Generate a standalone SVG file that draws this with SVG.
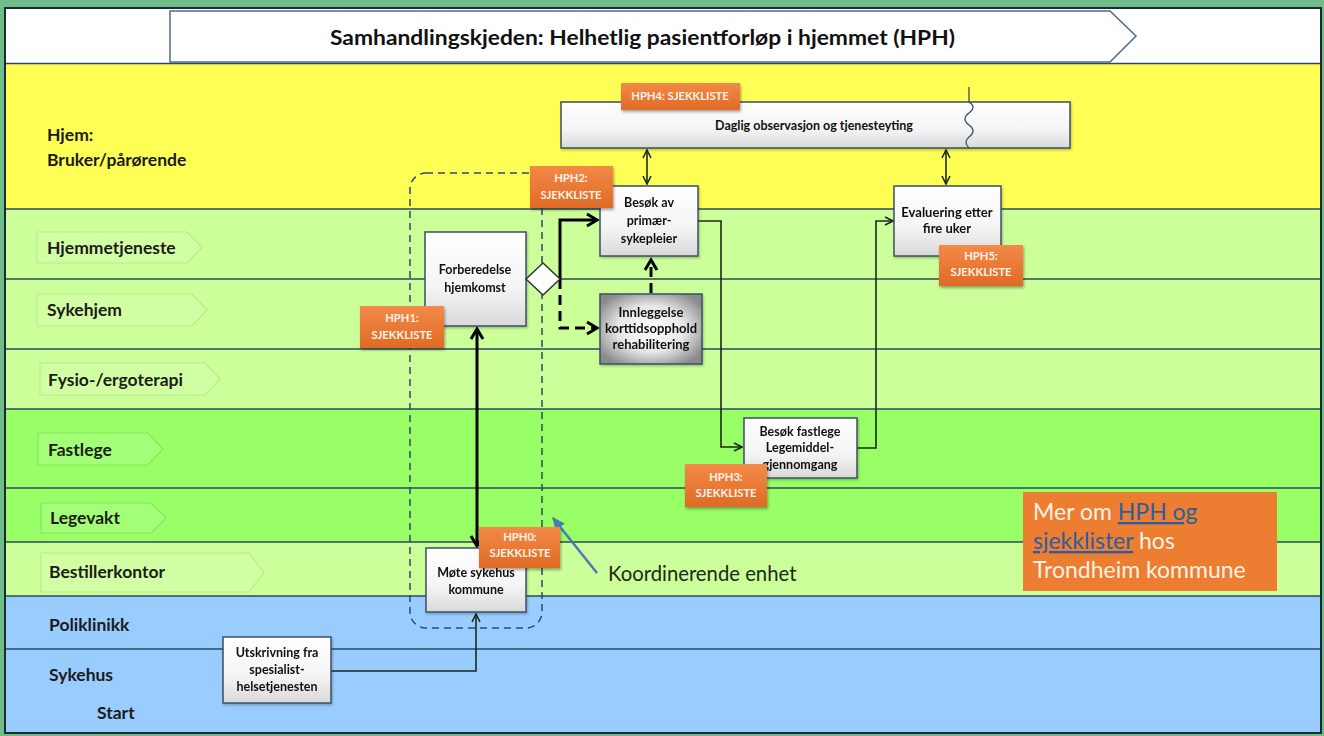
<svg xmlns="http://www.w3.org/2000/svg" width="1324" height="736" viewBox="0 0 1324 736">
<defs>
<style>
.ll{stroke:#2d4860;stroke-width:1.5}
.lbl{font-family:Lato,"Liberation Sans",sans-serif;font-weight:bold;font-size:17.5px;fill:#1b1b1b}
.tabL{fill:#d3ffa4;stroke:#b4ee8c;stroke-width:1.2}
.tabD{fill:#a4ff78;stroke:#86e65a;stroke-width:1.2}
.nb{fill:url(#gW);stroke:#3a4f66;stroke-width:1.5}
.nt{font-family:Lato,"Liberation Sans",sans-serif;font-weight:bold;font-size:12.5px;fill:#111;text-anchor:middle}
.hb{fill:url(#gO);filter:url(#sh)}
.ht{font-family:Lato,"Liberation Sans",sans-serif;font-weight:bold;font-size:11.2px;fill:#fff3ea;text-anchor:middle}
.thin{fill:none;stroke:#1c2a1c;stroke-width:1.6}
.thick{fill:none;stroke:#000;stroke-width:3}
.dash{stroke-dasharray:10 6}
</style>
<linearGradient id="gW" x1="0" y1="0" x2="0" y2="1">
<stop offset="0" stop-color="#ffffff"/><stop offset="0.6" stop-color="#f4f4f4"/><stop offset="1" stop-color="#d9d9d9"/>
</linearGradient>
<radialGradient id="gG" cx="0.5" cy="0.5" r="0.6">
<stop offset="0" stop-color="#ffffff"/><stop offset="0.55" stop-color="#e6e6e6"/><stop offset="1" stop-color="#8a8a8a"/>
</radialGradient>
<linearGradient id="gO" x1="0" y1="0" x2="0" y2="1">
<stop offset="0" stop-color="#f28a48"/><stop offset="1" stop-color="#e06a25"/>
</linearGradient>
<filter id="sh" x="-20%" y="-20%" width="140%" height="150%">
<feDropShadow dx="1" dy="2" stdDeviation="1.5" flood-color="#000" flood-opacity="0.35"/>
</filter>
<filter id="sh2" x="-10%" y="-10%" width="130%" height="130%">
<feDropShadow dx="1" dy="1.5" stdDeviation="1" flood-color="#000" flood-opacity="0.25"/>
</filter>
<marker id="aT" viewBox="0 0 10 10" refX="9" refY="5" markerWidth="10" markerHeight="10" markerUnits="userSpaceOnUse" orient="auto-start-reverse">
<path d="M1,1 L9,5 L1,9" fill="none" stroke="#1c2a1c" stroke-width="1.6"/>
</marker>
<marker id="aK" viewBox="0 0 16 16" refX="13" refY="8" markerWidth="16" markerHeight="16" markerUnits="userSpaceOnUse" orient="auto-start-reverse">
<path d="M3,2 L13,8 L3,14" fill="none" stroke="#000" stroke-width="3"/>
</marker>
<marker id="aB" viewBox="0 0 12 12" refX="10" refY="6" markerWidth="14" markerHeight="14" markerUnits="userSpaceOnUse" orient="auto">
<path d="M0,1 L11,6 L0,11 Z" fill="#4a7ab8"/>
</marker>
</defs>

<!-- frame and lanes -->
<rect x="0" y="0" width="1324" height="736" fill="#6fbd88"/>
<rect x="5" y="8" width="1316" height="725" fill="#ffffff" stroke="#1e2a33" stroke-width="2"/>
<rect x="6" y="64" width="1314" height="145" fill="#ffff55"/>
<rect x="6" y="209" width="1314" height="200" fill="#ccff99"/>
<rect x="6" y="409" width="1314" height="133" fill="#99ff66"/>
<rect x="6" y="542" width="1314" height="54" fill="#ccff99"/>
<rect x="6" y="596" width="1314" height="136" fill="#99ccff"/>
<g id="lane-lines">
<line class="ll" x1="6" y1="63.5" x2="1320" y2="63.5"/>
<line class="ll" x1="6" y1="209" x2="1320" y2="209"/>
<line class="ll" x1="6" y1="279" x2="1320" y2="279"/>
<line class="ll" x1="6" y1="349" x2="1320" y2="349"/>
<line class="ll" x1="6" y1="409" x2="1320" y2="409"/>
<line class="ll" x1="6" y1="488" x2="1320" y2="488"/>
<line class="ll" x1="6" y1="542" x2="1320" y2="542"/>
<line class="ll" x1="6" y1="596" x2="1320" y2="596"/>
<line class="ll" x1="6" y1="649" x2="1320" y2="649"/>
</g>
<rect x="5" y="8" width="1316" height="725" fill="none" stroke="#1e2a33" stroke-width="2"/>

<!-- title -->
<g id="title">
<polygon points="170,11 1110,11 1136,36 1110,62 170,62" fill="#ffffff" stroke="#4d6a8f" stroke-width="1.5"/>
<text x="330" y="45" textLength="625" lengthAdjust="spacingAndGlyphs" font-family="Lato,'Liberation Sans',sans-serif" font-weight="bold" font-size="21" fill="#111">Samhandlingskjeden: Helhetlig pasientforløp i hjemmet (HPH)</text>
</g>

<!-- lane labels -->
<g id="lane-labels">
<text class="lbl" x="47" y="141">Hjem:</text>
<text class="lbl" x="47" y="166">Bruker/pårørende</text>
<path class="tabL" d="M37,232 H187 L202,247.5 L187,263 H37 Z"/>
<text class="lbl" x="47" y="254">Hjemmetjeneste</text>
<path class="tabL" d="M37,294 H192 L207,310 L192,326 H37 Z"/>
<text class="lbl" x="47" y="316">Sykehjem</text>
<path class="tabL" d="M40,363 H205 L220,379 L205,395 H40 Z"/>
<text class="lbl" x="48" y="386">Fysio-/ergoterapi</text>
<path class="tabD" d="M38,433 H148 L163,449 L148,465 H38 Z"/>
<text class="lbl" x="48" y="456">Fastlege</text>
<path class="tabD" d="M41,503 H151 L166,518 L151,533 H41 Z"/>
<text class="lbl" x="50" y="524">Legevakt</text>
<path class="tabL" d="M41,553 H249 L264,572.5 L249,592 H41 Z"/>
<text class="lbl" x="49" y="578">Bestillerkontor</text>
<text class="lbl" x="49" y="631">Poliklinikk</text>
<text class="lbl" x="49" y="681">Sykehus</text>
<text class="lbl" x="97" y="719">Start</text>
</g>

<!-- coordinating unit dashed boundary -->
<g id="koordinerende-enhet">
<rect x="410" y="173" width="132" height="455" rx="16" fill="none" stroke="#2c4a6a" stroke-width="1.5" stroke-dasharray="7 5"/>
<line x1="597" y1="573" x2="553" y2="518" stroke="#4a7ab8" stroke-width="2.5" marker-end="url(#aB)"/>
<text x="608" y="581" font-family="Lato,'Liberation Sans',sans-serif" font-size="20.3" fill="#1a2a1a">Koordinerende enhet</text>
</g>

<!-- connectors -->
<g id="connectors">
<line class="thin" x1="647" y1="150" x2="647" y2="184" marker-start="url(#aT)" marker-end="url(#aT)"/>
<line class="thin" x1="946" y1="150" x2="946" y2="184" marker-start="url(#aT)" marker-end="url(#aT)"/>
<line class="thick" x1="477" y1="329" x2="477" y2="546" marker-start="url(#aK)" marker-end="url(#aK)"/>
<polyline class="thick" points="560,279 560,220 597,220" marker-end="url(#aK)"/>
<polyline class="thick dash" points="560,279 560,328 597,328" marker-end="url(#aK)"/>
<line class="thick dash" x1="651" y1="293" x2="651" y2="260" marker-end="url(#aK)"/>
<polyline class="thin" points="698,221 721,221 721,447 742,447" marker-end="url(#aT)"/>
<polyline class="thin" points="857,448 876,448 876,221 893,221" marker-end="url(#aT)"/>
<polyline class="thin" points="331,671 476,671 476,614" marker-end="url(#aT)"/>
</g>

<!-- nodes -->
<g id="daglig">
<rect class="nb" x="561" y="102" width="509" height="46" filter="url(#sh2)"/>
<text class="nt" x="814" y="130">Daglig observasjon og tjenesteyting</text>
<path d="M969,87 V102 Q977,107 969,113 Q961,119 969,125 Q977,131 969,137 Q963,142 969,148" fill="none" stroke="#3a4f66" stroke-width="1.3"/>
</g>
<g id="besok-primaer" filter="url(#sh2)">
<rect class="nb" x="600" y="186" width="98" height="70"/>
<text class="nt" x="649" y="207">Besøk av</text>
<text class="nt" x="649" y="225">primær-</text>
<text class="nt" x="649" y="243">sykepleier</text>
</g>
<g id="evaluering" filter="url(#sh2)">
<rect class="nb" x="894" y="186" width="107" height="70"/>
<text class="nt" x="947" y="217" style="font-size:13px">Evaluering etter</text>
<text class="nt" x="947" y="233" style="font-size:13px">fire uker</text>
</g>
<g id="forberedelse" filter="url(#sh2)">
<rect class="nb" x="425" y="232" width="101" height="94"/>
<text class="nt" x="475" y="274">Forberedelse</text>
<text class="nt" x="475" y="292">hjemkomst</text>
</g>
<g id="gateway">
<polygon points="543,263 560,279 543,295 526,279" fill="#ffffff" stroke="#333" stroke-width="1.5"/>
</g>
<g id="innleggelse" filter="url(#sh2)">
<rect x="600" y="294" width="102" height="70" fill="url(#gG)" stroke="#3a4f66" stroke-width="1.5"/>
<text class="nt" x="651" y="317" style="font-size:13px">Innleggelse</text>
<text class="nt" x="651" y="333" style="font-size:13px">korttidsopphold</text>
<text class="nt" x="651" y="349" style="font-size:13px">rehabilitering</text>
</g>
<g id="besok-fastlege" filter="url(#sh2)">
<rect class="nb" x="744" y="418" width="113" height="60"/>
<text class="nt" x="800" y="436">Besøk fastlege</text>
<text class="nt" x="800" y="452">Legemiddel-</text>
<text class="nt" x="800" y="469">gjennomgang</text>
</g>
<g id="mote" filter="url(#sh2)">
<rect class="nb" x="426" y="548" width="100" height="64"/>
<text class="nt" x="476" y="577">Møte sykehus</text>
<text class="nt" x="476" y="594">kommune</text>
</g>
<g id="utskrivning" filter="url(#sh2)">
<rect class="nb" x="223" y="637" width="108" height="66"/>
<text class="nt" x="277" y="657">Utskrivning fra</text>
<text class="nt" x="277" y="674">spesialist-</text>
<text class="nt" x="277" y="691">helsetjenesten</text>
</g>

<!-- checklists -->
<g id="hph4">
<rect class="hb" x="621" y="83" width="119" height="27"/>
<text class="ht" x="680" y="100">HPH4: SJEKKLISTE</text>
</g>
<g id="hph2">
<rect class="hb" x="530" y="166" width="83" height="42"/>
<text class="ht" x="571" y="182">HPH2:</text>
<text class="ht" x="571" y="199">SJEKKLISTE</text>
</g>
<g id="hph1">
<rect class="hb" x="360" y="306" width="84" height="42"/>
<text class="ht" x="402" y="322">HPH1:</text>
<text class="ht" x="402" y="339">SJEKKLISTE</text>
</g>
<g id="hph5">
<rect class="hb" x="939" y="245" width="84" height="41"/>
<text class="ht" x="981" y="260">HPH5:</text>
<text class="ht" x="981" y="276">SJEKKLISTE</text>
</g>
<g id="hph3">
<rect class="hb" x="685" y="464" width="82" height="43"/>
<text class="ht" x="726" y="481">HPH3:</text>
<text class="ht" x="726" y="497">SJEKKLISTE</text>
</g>
<g id="hph0">
<rect class="hb" x="479" y="527" width="81" height="41"/>
<text class="ht" x="520" y="541">HPH0:</text>
<text class="ht" x="520" y="557">SJEKKLISTE</text>
</g>

<!-- info box -->
<g id="mer-om">
<rect x="1023" y="492" width="254" height="99" fill="#ed7d31"/>
<text font-family="Lato,'Liberation Sans',sans-serif" font-size="23" fill="#fff3e8">
<tspan x="1033" y="520">Mer om <tspan fill="#2d5da1" text-decoration="underline">HPH og</tspan></tspan>
<tspan x="1033" y="549"><tspan fill="#2d5da1" text-decoration="underline">sjekklister</tspan> hos</tspan>
<tspan x="1033" y="578">Trondheim kommune</tspan>
</text>
</g>
</svg>
